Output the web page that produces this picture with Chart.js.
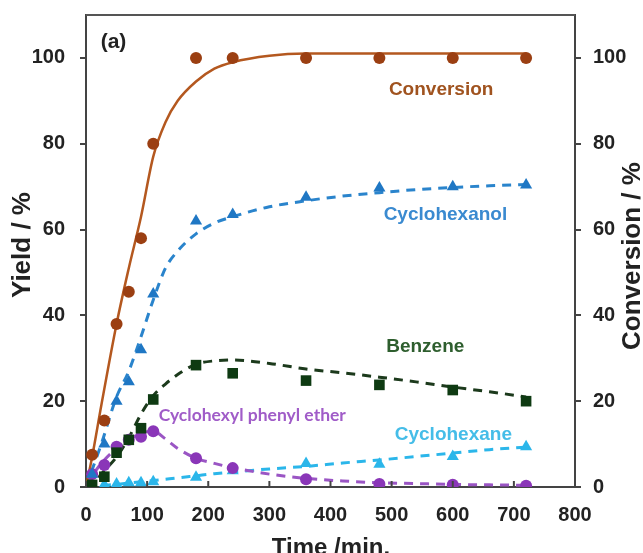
<!DOCTYPE html>
<html>
<head>
<meta charset="utf-8">
<script src="https://cdn.jsdelivr.net/npm/chart.js@4.4.1/dist/chart.umd.min.js"></script>
<style>
  html, body { margin: 0; padding: 0; background: #fff; }
  #wrap { width: 643px; height: 553px; position: relative; }
</style>
</head>
<body>
<div id="wrap"><canvas id="chart"></canvas></div>
<script>
// ========== DATA ==========
const sampleTimes = [10, 30, 50, 70, 90, 110, 180, 240, 360, 480, 600, 720];
const conversion   = [7.5, 15.5, 38, 45.5, 58, 80, 100, 100, 100, 100, 100, 100];
const cyclohexanol = [3, 10, 20, 24.5, 32, 45, 62, 63.5, 67.5, 69.7, 70, 70.4];
const benzene      = [0.5, 2.4, 8, 11, 13.7, 20.4, 28.4, 26.5, 24.8, 23.8, 22.6, 20];
const phenylEther  = [3, 5.1, 9.4, 11, 11.7, 13, 6.7, 4.4, 1.8, 0.7, 0.5, 0.3];
const cyclohexane  = [0.3, 0.5, 0.7, 1, 1, 1.2, 2.3, 3.8, 5.5, 5.3, 7.1, 9.4];

// fitted curves
const fitTimes        = [0, 10, 25, 50, 70, 90, 110, 130, 150, 180, 210, 240, 300, 360, 420, 480, 540, 600, 660, 720];
const conversionFit   = [0, 7, 19, 38, 51, 63, 77, 85, 90, 94.5, 97.5, 99, 100.5, 101, 101, 101, 101, 101, 101, 101];
const cyclohexanolFit = [0, 4, 10, 21, 27, 35, 43.6, 51, 55, 59, 61.5, 63, 65.3, 66.7, 67.8, 68.6, 69.3, 69.8, 70.2, 70.5];
const benzeneFit      = [0, 0.5, 3, 7, 11.5, 17, 21.3, 24, 26.2, 28.6, 29.4, 29.6, 28.8, 27.5, 26.6, 25.6, 24.5, 23.3, 22.2, 21];
const etherFit        = [0, 2.5, 5.5, 9, 11, 12.5, 13, 11.2, 9, 6.7, 5.5, 4.5, 3, 2, 1.4, 1, 0.8, 0.6, 0.5, 0.4];
const cyclohexaneFit  = [0, 0.2, 0.4, 0.6, 0.9, 1.2, 1.5, 1.8, 2.1, 2.6, 3.1, 3.5, 4.2, 4.8, 5.6, 6.3, 7.1, 7.9, 8.7, 9.3];

const xTicks = [0, 100, 200, 300, 400, 500, 600, 700, 800];
const yTicks = [0, 20, 40, 60, 80, 100];

// ========== HELPERS ==========
const pairs = (xs, ys) => xs.map((x, i) => ({ x: x, y: ys[i] }));

function fitLine(ys, color, dashed, axis) {
    return {
        type: 'line', data: pairs(fitTimes, ys), yAxisID: axis || 'y', order: 2,
        borderColor: color, borderWidth: dashed ? 3 : 2.5,
        borderDash: dashed ? [9, 7] : [], pointRadius: 0,
        cubicInterpolationMode: 'monotone', fill: false
    };
}
function markers(ys, color, style, r, axis) {
    return {
        type: 'scatter', data: pairs(sampleTimes, ys), yAxisID: axis || 'y', order: 1,
        backgroundColor: color, borderColor: color, borderWidth: 0,
        pointStyle: style, pointRadius: r, showLine: false
    };
}

// ========== ANNOTATIONS ==========
const labels = [
    { text: 'Conversion', t: 581, v: 92.5, color: '#A0531F', font: 'bold 19px "Liberation Sans", Arial' },
    { text: 'Cyclohexanol', t: 588, v: 63.4, color: '#3A8AD0', font: 'bold 19px "Liberation Sans", Arial' },
    { text: 'Benzene', t: 555, v: 32.6, color: '#2E5E2E', font: 'bold 19px "Liberation Sans", Arial' },
    { text: 'Cyclohexane', t: 601, v: 12.1, color: '#45BDE8', font: 'bold 19px "Liberation Sans", Arial' },
    { text: 'Cyclohexyl phenyl ether', t: 272, v: 16.8, color: '#A05CC8', font: 'bold 17.5px Lato' },
    { text: '(a)', t: 45, v: 103.7, color: '#222', font: 'bold 21px "Liberation Sans", Arial' }
];

const decor = {
    id: 'decor',
    afterDraw(chart) {
        const ctx = chart.ctx, a = chart.chartArea;
        const xs = chart.scales.x, ys = chart.scales.y;
        ctx.save();
        // top frame line
        ctx.strokeStyle = '#555'; ctx.lineWidth = 2;
        ctx.beginPath(); ctx.moveTo(a.left, a.top); ctx.lineTo(a.right, a.top); ctx.stroke();
        // inward x ticks
        ctx.strokeStyle = '#444'; ctx.lineWidth = 2;
        xTicks.forEach(t => {
            const px = xs.getPixelForValue(t);
            ctx.beginPath(); ctx.moveTo(px, a.bottom); ctx.lineTo(px, a.bottom - 6); ctx.stroke();
        });
        // series labels
        ctx.textAlign = 'center'; ctx.textBaseline = 'middle';
        labels.forEach(l => {
            ctx.font = l.font; ctx.fillStyle = l.color;
            ctx.fillText(l.text, xs.getPixelForValue(l.t), ys.getPixelForValue(l.v));
        });
        // axis titles
        ctx.fillStyle = '#222';
        ctx.font = 'bold 26px "Liberation Sans", Arial';
        ctx.save(); ctx.translate(23, 245); ctx.rotate(-Math.PI / 2); ctx.fillText('Yield / %', 0, 0); ctx.restore();
        ctx.save(); ctx.translate(633, 256); ctx.rotate(-Math.PI / 2); ctx.fillText('Conversion / %', 0, 0); ctx.restore();
        ctx.font = 'bold 24px "Liberation Sans", Arial';
        ctx.fillText('Time /min.', 331, 548);
        ctx.restore();
    }
};

// ========== CHART ==========
const tickFont = { family: '"Liberation Sans", Arial', size: 20, weight: 'bold' };
const fitY = w => s => { s.width = w; s.paddingTop = 0; s.paddingBottom = 0; };

new Chart(document.getElementById('chart'), {
    data: {
        datasets: [
            fitLine(conversionFit, '#B4581F', false, 'y2'),
            fitLine(cyclohexanolFit, '#2A84CC', true),
            fitLine(benzeneFit, '#1C3A1C', true),
            fitLine(etherFit, '#9A55C4', true),
            fitLine(cyclohexaneFit, '#2BB6EA', true),
            markers(conversion, '#9B3F12', 'circle', 6, 'y2'),
            markers(cyclohexanol, '#1F77C4', 'triangle', 7),
            markers(benzene, '#0E3A12', 'rect', 7.5),
            markers(phenylEther, '#8A36B8', 'circle', 6),
            markers(cyclohexane, '#2BB6EA', 'triangle', 7)
        ]
    },
    options: {
        responsive: true,
        maintainAspectRatio: false,
        animation: false,
        layout: { padding: { top: 15, left: 0, right: 0, bottom: 0 } },
        plugins: { legend: { display: false }, tooltip: { enabled: false } },
        scales: {
            x: {
                type: 'linear', min: 0, max: 800,
                afterBuildTicks: s => { s.ticks = xTicks.map(v => ({ value: v })); },
                afterFit: s => { s.height = 66; s.paddingLeft = 0; s.paddingRight = 0; },
                ticks: { font: tickFont, color: '#222', padding: 16, maxRotation: 0 },
                grid: { drawOnChartArea: false, drawTicks: false },
                border: { color: '#444', width: 2 }
            },
            y: {
                position: 'left', min: 0, max: 110,
                afterBuildTicks: s => { s.ticks = yTicks.map(v => ({ value: v })); },
                afterFit: fitY(86),
                ticks: { font: tickFont, color: '#222', padding: 15 },
                grid: { drawOnChartArea: false, tickLength: 6, color: '#444', lineWidth: 2 },
                border: { color: '#444', width: 2 }
            },
            y2: {
                position: 'right', min: 0, max: 110,
                afterBuildTicks: s => { s.ticks = yTicks.map(v => ({ value: v })); },
                afterFit: fitY(68),
                ticks: { font: tickFont, color: '#222', padding: 12 },
                grid: { drawOnChartArea: false, tickLength: 6, color: '#444', lineWidth: 2 },
                border: { color: '#444', width: 2 }
            }
        }
    },
    plugins: [decor]
});
</script>
</body>
</html>
